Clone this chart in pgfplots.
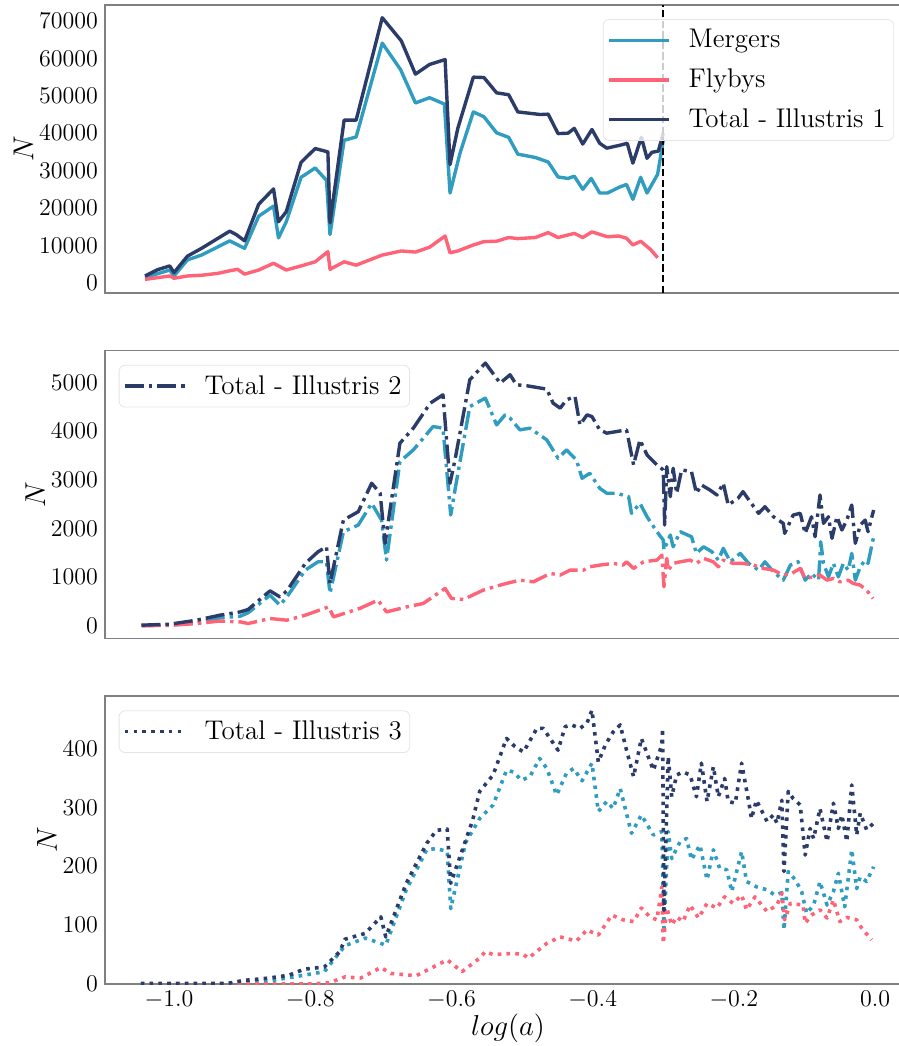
\documentclass[border=0pt]{standalone}
\usepackage{pgfplots}
\pgfplotsset{compat=1.18}
\usepackage{pgfplotstable}
\definecolor{cmerg}{RGB}{48,157,192}
\definecolor{cfly}{RGB}{255,99,120}
\definecolor{ctot}{RGB}{44,60,105}
\definecolor{cframe}{RGB}{128,128,128}

% ---------------- Panel 1 (Illustris 1) ----------------
\pgfplotstableread{
x y
-1.034 1800
-1.016 3500
-0.999 4500
-0.993 2700
-0.974 7100
-0.954 9200
-0.914 13800
-0.905 12900
-0.893 11200
-0.873 21000
-0.852 25100
-0.845 16300
-0.834 19000
-0.813 32200
-0.793 35900
-0.775 35000
-0.772 16000
-0.752 43500
-0.735 43500
-0.698 70900
-0.671 64700
-0.651 55800
-0.631 58400
-0.609 59700
-0.602 31600
-0.591 41300
-0.569 55000
-0.554 54900
-0.536 50800
-0.519 50300
-0.506 45700
-0.474 45000
-0.463 45100
-0.449 39900
-0.435 40000
-0.426 41300
-0.414 37100
-0.401 41000
-0.390 37300
-0.380 36000
-0.361 36800
-0.351 37300
-0.343 32000
-0.331 38900
-0.323 33300
-0.316 34900
-0.307 35200
-0.300 40000
}\totA
\pgfplotstableread{
x y
-1.034 1400
-0.999 3400
-0.993 1800
-0.974 6100
-0.954 7400
-0.914 11200
-0.893 9200
-0.873 17800
-0.852 20500
-0.845 12000
-0.834 16300
-0.813 28200
-0.793 30700
-0.777 27400
-0.772 12900
-0.752 38100
-0.735 39000
-0.698 64100
-0.672 57000
-0.651 48100
-0.631 49500
-0.610 47800
-0.602 24000
-0.588 34600
-0.569 45700
-0.554 44400
-0.536 40100
-0.519 38900
-0.506 34400
-0.481 33500
-0.463 32300
-0.449 28300
-0.435 27900
-0.426 28500
-0.414 25000
-0.402 27900
-0.390 24000
-0.379 24000
-0.363 25500
-0.352 26300
-0.343 22300
-0.332 28200
-0.323 24000
-0.308 29000
-0.300 38100
}\mergA
\pgfplotstableread{
x y
-1.034 900
-0.999 1800
-0.993 1200
-0.974 1800
-0.954 2000
-0.931 2500
-0.914 3200
-0.903 3600
-0.893 2300
-0.873 3400
-0.852 5200
-0.834 3400
-0.813 4500
-0.793 5600
-0.775 8300
-0.772 3600
-0.752 5600
-0.735 4700
-0.698 7400
-0.671 8500
-0.651 8200
-0.631 9500
-0.609 12500
-0.602 8000
-0.591 8500
-0.569 10100
-0.554 11000
-0.536 11100
-0.519 12100
-0.506 11800
-0.481 12100
-0.463 13400
-0.449 12100
-0.426 13200
-0.414 12100
-0.401 13600
-0.379 12300
-0.363 12500
-0.352 11900
-0.343 10100
-0.332 11100
-0.318 8900
-0.308 6700
}\flyA

% ---------------- Panel 2 (Illustris 2) ----------------
\pgfplotstableread{
x y
-1.039 15
-0.999 35
-0.961 117
-0.928 220
-0.899 288
-0.888 337
-0.857 720
-0.843 597
-0.833 720
-0.807 1284
-0.789 1523
-0.777 1626
-0.772 873
-0.753 2175
-0.732 2346
-0.713 2931
-0.701 2725
-0.694 1696
-0.673 3754
-0.654 4062
-0.630 4577
-0.612 4748
-0.602 2931
-0.595 3410
-0.574 5057
-0.552 5400
-0.531 4988
-0.517 5160
-0.508 4954
-0.493 4933
-0.465 4865
-0.456 4577
-0.446 4474
-0.437 4645
-0.425 4713
-0.418 4130
-0.408 4336
-0.401 4301
-0.390 4028
-0.380 3960
-0.366 3993
-0.352 4028
-0.342 3307
-0.333 3822
-0.323 3513
-0.309 3307
-0.300 3205
-0.298 2072
-0.295 3272
-0.290 2655
-0.286 3239
-0.281 2725
-0.274 3205
-0.260 3169
-0.253 2725
-0.246 2896
-0.234 2793
-0.224 2690
-0.215 2931
-0.208 2484
-0.194 2622
-0.187 2758
-0.177 2552
-0.165 2313
-0.156 2449
-0.144 2243
-0.130 2107
-0.128 1901
-0.116 2278
-0.106 2313
-0.099 1901
-0.090 2243
-0.085 1832
-0.078 2690
-0.073 2107
-0.066 2243
-0.061 1799
-0.054 2243
-0.047 1970
-0.040 2175
-0.033 2484
-0.028 1696
-0.021 2072
-0.014 2175
-0.010 1935
-0.002 2381
}\totB
\pgfplotstableread{
x y
-1.039 5
-0.999 20
-0.961 60
-0.928 165
-0.899 200
-0.888 270
-0.857 630
-0.843 426
-0.833 597
-0.807 1146
-0.789 1317
-0.777 1317
-0.772 667
-0.753 1935
-0.732 2072
-0.713 2519
-0.699 2175
-0.692 1352
-0.673 3375
-0.654 3616
-0.626 4096
-0.612 4062
-0.601 2278
-0.595 2793
-0.574 4507
-0.552 4680
-0.536 4130
-0.524 4336
-0.517 4268
-0.503 4028
-0.489 4062
-0.465 3822
-0.449 3445
-0.437 3616
-0.423 3410
-0.415 3033
-0.404 3136
-0.390 2828
-0.380 2725
-0.366 2725
-0.349 2655
-0.345 2313
-0.333 2519
-0.323 2243
-0.309 1935
-0.300 1764
-0.299 1558
-0.290 1867
-0.286 1626
-0.276 1935
-0.260 1832
-0.253 1490
-0.243 1626
-0.231 1523
-0.222 1352
-0.215 1593
-0.205 1317
-0.191 1490
-0.179 1284
-0.165 1146
-0.156 1317
-0.144 1111
-0.130 940
-0.120 1249
-0.109 1317
-0.099 940
-0.090 1078
-0.080 940
-0.077 1729
-0.073 1284
-0.066 1008
-0.059 1284
-0.052 1008
-0.045 1284
-0.038 1146
-0.033 1490
-0.028 940
-0.021 1214
-0.014 1352
-0.010 1284
-0.002 1832
}\mergB
\pgfplotstableread{
x y
-1.039 5
-0.999 10
-0.961 49
-0.928 100
-0.899 82
-0.888 49
-0.857 152
-0.833 117
-0.807 220
-0.774 391
-0.767 185
-0.730 358
-0.704 529
-0.692 288
-0.663 391
-0.640 461
-0.609 770
-0.600 564
-0.583 543
-0.555 735
-0.531 838
-0.522 873
-0.503 940
-0.484 906
-0.460 1078
-0.446 1043
-0.432 1146
-0.413 1146
-0.404 1214
-0.390 1249
-0.371 1284
-0.357 1249
-0.352 1317
-0.342 1181
-0.328 1317
-0.309 1352
-0.302 1455
-0.299 803
-0.295 1387
-0.293 1146
-0.286 1284
-0.276 1317
-0.262 1352
-0.253 1284
-0.243 1387
-0.229 1317
-0.222 1214
-0.215 1352
-0.201 1284
-0.187 1284
-0.172 1249
-0.158 1181
-0.144 1146
-0.130 1043
-0.118 1078
-0.106 1181
-0.099 975
-0.087 1008
-0.078 1043
-0.068 940
-0.059 975
-0.050 906
-0.038 940
-0.031 873
-0.021 838
-0.012 735
-0.003 564
}\flyB

% ---------------- Panel 3 (Illustris 3) ----------------
\pgfplotstableread{
x y
-1.040 1
-0.917 1
-0.895 6
-0.859 10
-0.830 15
-0.809 25
-0.780 29
-0.758 55
-0.751 76
-0.722 86
-0.700 114
-0.693 80
-0.664 171
-0.635 239
-0.621 261
-0.606 263
-0.601 171
-0.570 278
-0.560 327
-0.541 355
-0.522 417
-0.510 403
-0.498 394
-0.479 434
-0.470 434
-0.449 397
-0.439 437
-0.430 440
-0.418 434
-0.408 443
-0.401 465
-0.392 377
-0.382 406
-0.371 428
-0.361 440
-0.352 397
-0.342 352
-0.331 417
-0.314 363
-0.302 406
-0.301 434
-0.299 125
-0.293 386
-0.288 318
-0.281 355
-0.272 360
-0.262 355
-0.253 318
-0.246 375
-0.238 310
-0.229 369
-0.222 318
-0.213 349
-0.208 310
-0.198 307
-0.189 375
-0.179 310
-0.175 281
-0.168 312
-0.153 276
-0.144 287
-0.139 273
-0.132 312
-0.129 191
-0.123 327
-0.116 315
-0.106 304
-0.099 219
-0.092 264
-0.087 247
-0.078 298
-0.068 242
-0.059 307
-0.052 264
-0.047 287
-0.040 242
-0.033 338
-0.026 253
-0.021 290
-0.012 262
-0.002 273
}\totC
\pgfplotstableread{
x y
-1.040 0
-0.917 0
-0.859 5
-0.809 15
-0.780 21
-0.751 65
-0.722 78
-0.693 66
-0.664 160
-0.635 228
-0.621 230
-0.606 225
-0.601 128
-0.580 240
-0.560 281
-0.541 304
-0.522 363
-0.512 360
-0.501 346
-0.489 352
-0.475 383
-0.465 366
-0.451 321
-0.437 358
-0.427 366
-0.415 345
-0.401 375
-0.392 293
-0.380 310
-0.371 298
-0.361 332
-0.345 256
-0.331 287
-0.314 253
-0.302 259
-0.299 95
-0.293 259
-0.288 213
-0.276 242
-0.267 247
-0.260 211
-0.248 236
-0.238 177
-0.229 228
-0.220 196
-0.210 194
-0.203 157
-0.189 225
-0.182 174
-0.168 165
-0.153 160
-0.142 151
-0.132 155
-0.129 92
-0.123 191
-0.113 177
-0.104 157
-0.097 120
-0.087 134
-0.078 174
-0.068 134
-0.059 157
-0.052 188
-0.043 131
-0.033 228
-0.026 162
-0.021 182
-0.012 174
-0.002 199
}\mergC
\pgfplotstableread{
x y
-1.040 0
-0.800 0
-0.773 2
-0.751 12
-0.729 10
-0.700 28
-0.686 18
-0.650 14
-0.606 41
-0.585 21
-0.560 44
-0.552 55
-0.541 50
-0.512 52
-0.498 50
-0.491 44
-0.465 69
-0.446 80
-0.423 73
-0.408 92
-0.392 83
-0.373 117
-0.357 109
-0.342 106
-0.331 129
-0.319 114
-0.309 109
-0.302 165
-0.300 69
-0.295 129
-0.288 100
-0.281 114
-0.272 106
-0.262 134
-0.250 112
-0.238 137
-0.224 129
-0.213 148
-0.201 137
-0.189 151
-0.182 126
-0.170 148
-0.153 123
-0.139 134
-0.132 154
-0.128 109
-0.120 137
-0.102 134
-0.099 103
-0.090 117
-0.078 126
-0.068 112
-0.059 143
-0.050 106
-0.040 113
-0.026 109
-0.019 95
-0.005 75
}\flyC

\pgfplotsset{
  base/.style={
    scale only axis, width=403pt, height=144pt,
    xmin=-1.0907, xmax=0.0509,
    axis line style={cframe, line width=0.6pt},
    major tick length=0pt,
    tick label style={font=\fontsize{11.5}{13}\selectfont},
    label style={font=\fontsize{14}{16}\selectfont},
    ylabel shift=-4pt, xlabel shift=-4pt,
    xtick={-1,-0.8,-0.6,-0.4,-0.2,0},
    xticklabel style={/pgf/number format/fixed, /pgf/number format/fixed zerofill, /pgf/number format/precision=1},
    scaled y ticks=false,
    yticklabel style={/pgf/number format/fixed, /pgf/number format/1000 sep={}},
    ylabel={$N$},
    legend cell align=left,
    legend image code/.code={\draw[##1, draw opacity=1] (0pt,0pt) -- (30pt,0pt);},
    legend style={font=\fontsize{13.5}{16}\selectfont, draw=black!10, fill=white,
      fill opacity=0.8, text opacity=1, rounded corners=3pt,
      inner xsep=2pt, inner ysep=3pt, row sep=5pt,
      /tikz/every odd column/.append style={column sep=7pt}},
  },
  ln/.style={line width=1.7pt, line join=round},
  dd/.style={line width=1.7pt, line join=round, dash pattern=on 9.5pt off 2.5pt on 1.7pt off 2.5pt},
  dt/.style={line width=1.8pt, line join=round, dash pattern=on 1.8pt off 2.6pt},
}

\begin{document}
\begin{tikzpicture}
\begin{axis}[base, name=ax1, at={(0,0)}, anchor=north west,
  ymin=-2750, ymax=74300, ytick={0,10000,...,70000}, xticklabels={},
  legend style={at={(0.979,0.951)}, anchor=north east}]
\addplot[cmerg, ln] table {\mergA};
\addlegendentry{Mergers}
\addplot[cfly, ln] table {\flyA};
\addlegendentry{Flybys}
\addplot[ctot, ln] table {\totA};
\addlegendentry{Total - Illustris 1}
\addplot[black, line width=1pt, dash pattern=on 3.7pt off 1.6pt, forget plot] coordinates {(-0.3,-2750) (-0.3,74300)};
\end{axis}

\begin{axis}[base, name=ax2, at={(0,-172.75pt)}, anchor=north west,
  ymin=-259, ymax=5658, ytick={0,1000,...,5000}, xticklabels={},
  legend style={at={(0.017,0.950)}, anchor=north west}]
\addplot[cmerg, dd, forget plot] table {\mergB};
\addplot[cfly, dd, forget plot] table {\flyB};
\addplot[ctot, dd] table {\totB};
\addlegendentry{Total - Illustris 2}
\end{axis}

\begin{axis}[base, name=ax3, at={(0,-345.5pt)}, anchor=north west,
  ymin=0, ymax=489, ytick={0,100,...,400}, xlabel={$log(a)$},
  legend style={at={(0.017,0.950)}, anchor=north west}]
\addplot[cmerg, dt, forget plot] table {\mergC};
\addplot[cfly, dt, forget plot] table {\flyC};
\addplot[ctot, dt] table {\totC};
\addlegendentry{Total - Illustris 3}
\end{axis}

\pgfresetboundingbox
\path[use as bounding box] (-52.5pt,2.5pt) rectangle (397pt,-520.5pt);
\end{tikzpicture}
\end{document}
